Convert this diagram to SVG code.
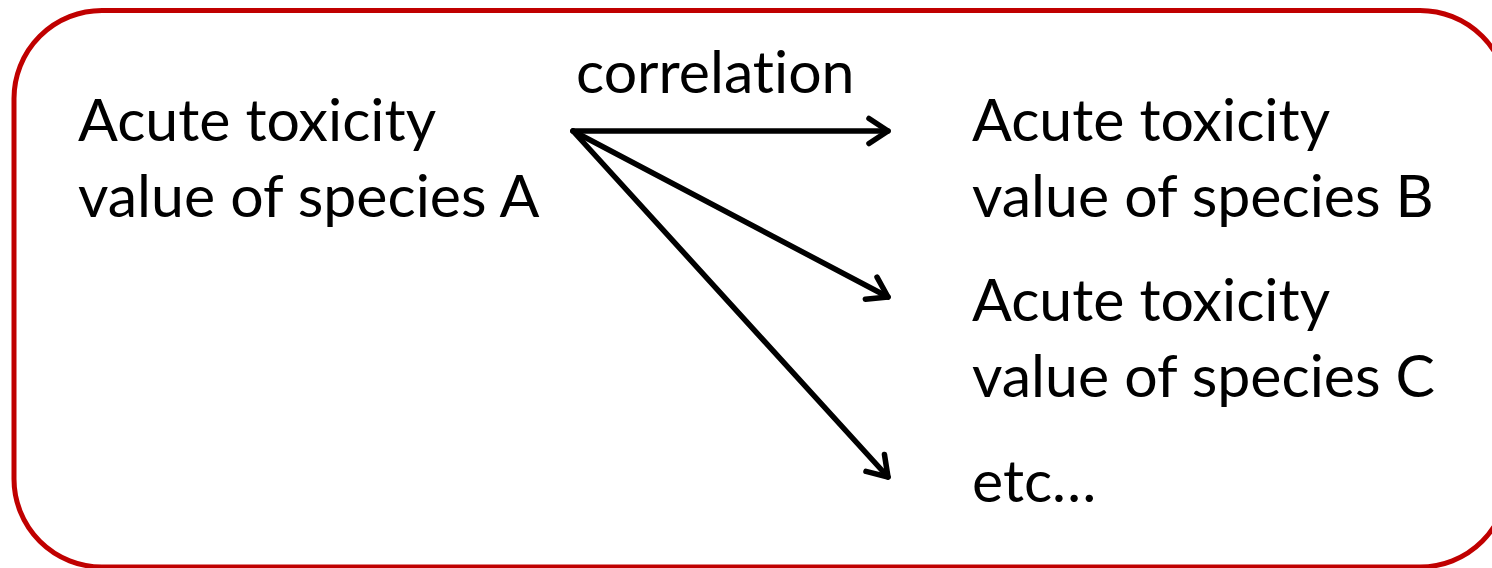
<svg xmlns="http://www.w3.org/2000/svg" width="1492" height="568" viewBox="0 0 1492 568">
<style>
.t{font-family:Lato,"Liberation Sans",sans-serif;font-size:59px;fill:#000;font-variant-ligatures:none;font-feature-settings:"liga" 0}
.c{fill:none;stroke:#000;stroke-width:5.5;stroke-linecap:round}
</style>
<defs>
<marker id="ah" viewBox="-24 -18 28 36" refX="0" refY="0" markerWidth="28" markerHeight="36" markerUnits="userSpaceOnUse" orient="auto">
<path d="M-19,-12.5 L0,0 L-19,12.5" fill="none" stroke="#000" stroke-width="5.5" stroke-linecap="round" stroke-linejoin="round"/>
</marker>
</defs>
<rect id="frame" x="14" y="10.5" width="1494" height="556.5" rx="88" ry="88" fill="#fff" stroke="#C00000" stroke-width="5"/>
<g id="connectors">
<line class="c" x1="573" y1="131" x2="888" y2="131" marker-end="url(#ah)"/>
<line class="c" x1="573" y1="131" x2="888" y2="297" marker-end="url(#ah)"/>
<line class="c" x1="573" y1="131" x2="888" y2="477" marker-end="url(#ah)"/>
<text class="t" x="576" y="93">correlation</text>
</g>
<g id="nodeA"><text class="t" x="78" y="141">Acute toxicity</text><text class="t" x="78" y="217">value of species A</text></g>
<g id="nodeB"><text class="t" x="972" y="141">Acute toxicity</text><text class="t" x="972" y="217">value of species B</text></g>
<g id="nodeC"><text class="t" x="972" y="321">Acute toxicity</text><text class="t" x="972" y="397">value of species C</text></g>
<g id="nodeEtc"><text class="t" x="972" y="502">etc…</text></g>
</svg>
